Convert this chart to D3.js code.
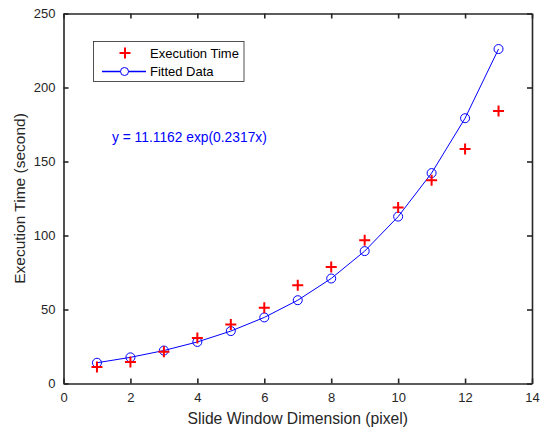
<!DOCTYPE html>
<html><head><meta charset="utf-8">
<script src="https://cdn.jsdelivr.net/npm/d3@7"></script>
<style>body{margin:0;background:#fff;} text{font-family:"Liberation Sans",Arial,sans-serif;}</style>
</head><body>
<svg id="c" width="543" height="434"></svg>
<script>
const xs = [1,2,3,4,5,6,7,8,9,10,11,12,13];
const execTime = [11.2,14.6,21.4,30.8,39.9,51.1,66.4,78.8,96.8,118.9,137.4,158.5,184.2];
const fitted = [14.01,17.67,22.28,28.08,35.41,44.64,56.28,70.95,89.45,112.78,142.18,179.25,226.0];
const xTicks = [0,2,4,6,8,10,12,14];
const yTicks = [0,50,100,150,200,250];
const legendLabels = ["Execution Time","Fitted Data"];
const eqText = "y = 11.1162 exp(0.2317x)";

const svg = d3.select("#c");
const L=63.5, R=532, T=13.5, B=383.5;
const x = d3.scaleLinear().domain([0,14]).range([L,R]);
const y = d3.scaleLinear().domain([0,250]).range([B,T]);
const ax="#262626";

// axes
const gB = svg.append("g").attr("transform",`translate(0,${B})`).call(d3.axisBottom(x).tickValues(xTicks).tickSizeInner(-5).tickSizeOuter(0).tickPadding(9));
const gT = svg.append("g").attr("transform",`translate(0,${T})`).call(d3.axisTop(x).tickValues(xTicks).tickSizeInner(-5).tickSizeOuter(0).tickFormat(""));
const gL = svg.append("g").attr("transform",`translate(${L},0)`).call(d3.axisLeft(y).tickValues(yTicks).tickSizeInner(-5).tickSizeOuter(0).tickPadding(8));
const gR = svg.append("g").attr("transform",`translate(${R},0)`).call(d3.axisRight(y).tickValues(yTicks).tickSizeInner(-5).tickSizeOuter(0).tickFormat(""));
[gB,gT,gL,gR].forEach(g=>{
  g.select(".domain").attr("stroke",ax).attr("stroke-width",1.6);
  g.selectAll(".tick line").attr("stroke",ax).attr("stroke-width",1.6);
  g.selectAll(".tick text").attr("fill",ax).style("font-size","13px").style("font-family","'Liberation Sans',Arial,sans-serif");
});

// fitted line
const line = d3.line().x((d,i)=>x(xs[i])).y(d=>y(d));
svg.append("path").datum(fitted).attr("d",line).attr("fill","none").attr("stroke","#0000ff").attr("stroke-width",1);
svg.selectAll(".circ").data(fitted).enter().append("circle")
  .attr("cx",(d,i)=>x(xs[i])).attr("cy",d=>y(d)).attr("r",4.5)
  .attr("fill","none").attr("stroke","#0000ff").attr("stroke-width",1);

// crosses
const plus = (g,cx,cy,s)=>g.append("path").attr("d",`M${cx-s},${cy}H${cx+s}M${cx},${cy-s}V${cy+s}`).attr("stroke","#ff0000").attr("stroke-width",2).attr("fill","none");
execTime.forEach((d,i)=>plus(svg,x(xs[i]),y(d),5.5));

// legend
svg.append("rect").attr("x",93.5).attr("y",41.5).attr("width",150.5).attr("height",40).attr("fill","#fff").attr("stroke","#262626").attr("stroke-width",0.8);
plus(svg,125,53,5.5);
svg.append("line").attr("x1",102).attr("x2",146).attr("y1",71.5).attr("y2",71.5).attr("stroke","#0000ff").attr("stroke-width",1.5);
svg.append("circle").attr("cx",124.5).attr("cy",71.5).attr("r",4).attr("fill","#fff").attr("stroke","#0000ff").attr("stroke-width",1);
svg.append("text").attr("x",150).attr("y",58).text(legendLabels[0]).style("font-size","13px").attr("fill","#000");
svg.append("text").attr("x",150).attr("y",76).text(legendLabels[1]).style("font-size","13px").attr("fill","#000");

// equation
svg.append("text").attr("x",112).attr("y",142).text(eqText).style("font-size","13.8px").attr("fill","#0000ff");

// axis labels
svg.append("text").attr("x",(L+R)/2).attr("y",424).attr("text-anchor","middle").text("Slide Window Dimension (pixel)").style("font-size","15.7px").attr("fill",ax);
svg.append("text").attr("transform",`translate(25,${(T+B)/2}) rotate(-90)`).attr("text-anchor","middle").text("Execution Time (second)").style("font-size","15.5px").attr("fill",ax);
</script>
</body></html>
